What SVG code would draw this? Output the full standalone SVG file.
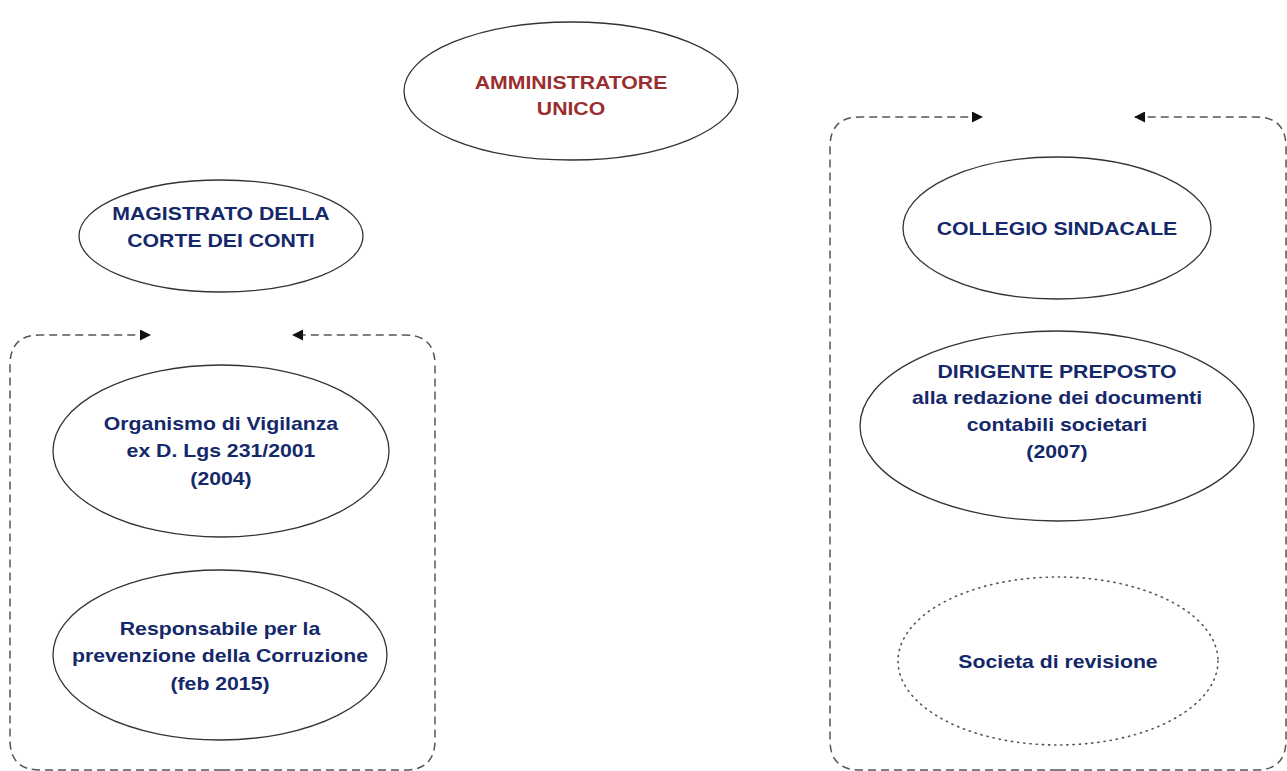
<svg xmlns="http://www.w3.org/2000/svg" width="1287" height="771" viewBox="0 0 1287 771">
  <style>
    .node { fill: #ffffff; stroke: #333333; stroke-width: 1.3; }
    .dotted { fill: #ffffff; stroke: #555555; stroke-width: 1.6; stroke-dasharray: 1.2 5; stroke-linecap: round; }
    .lbl { font-family: "Liberation Sans", Arial, sans-serif; font-weight: bold; font-size: 18px; fill: #14286a; text-anchor: middle; }
    .top { fill: #9a2e2e; }
    .conn { fill: none; stroke: #555555; stroke-width: 1.5; stroke-dasharray: 8 5; }
  </style>
  <defs>
    <marker id="arrow" markerWidth="11" markerHeight="11" refX="10" refY="5.5" orient="auto" markerUnits="userSpaceOnUse">
      <path d="M0,0 L11,5.5 L0,11 Z" fill="#111111"/>
    </marker>
  </defs>
  <rect width="1287" height="771" fill="#ffffff"/>

  <g id="connectors">
    <!-- left group frame -->
    <path class="conn" d="M222,770 L40,770 Q10,770 10,740 L10,365 Q10,335 40,335 L150,335" marker-end="url(#arrow)"/>
    <path class="conn" d="M222,770 L405,770 Q435,770 435,740 L435,365 Q435,335 405,335 L293,335" marker-end="url(#arrow)"/>
    <!-- right group frame -->
    <path class="conn" d="M1058,770 L860,770 Q830,770 830,740 L830,147 Q830,117 860,117 L982,117" marker-end="url(#arrow)"/>
    <path class="conn" d="M1058,770 L1256,770 Q1286,770 1286,740 L1286,147 Q1286,117 1256,117 L1135,117" marker-end="url(#arrow)"/>
  </g>

  <g id="amministratore">
    <ellipse class="node" cx="571" cy="91" rx="167" ry="69"/>
    <text class="lbl top" transform="translate(571 89) scale(1.18 1)">AMMINISTRATORE</text>
    <text class="lbl top" transform="translate(571 115) scale(1.18 1)">UNICO</text>
  </g>

  <g id="magistrato">
    <ellipse class="node" cx="221" cy="236" rx="142" ry="56"/>
    <text class="lbl" transform="translate(221 220) scale(1.18 1)">MAGISTRATO DELLA</text>
    <text class="lbl" transform="translate(221 247) scale(1.18 1)">CORTE DEI CONTI</text>
  </g>

  <g id="organismo">
    <ellipse class="node" cx="221" cy="451" rx="168" ry="86"/>
    <text class="lbl" transform="translate(221 430) scale(1.18 1)">Organismo di Vigilanza</text>
    <text class="lbl" transform="translate(221 457) scale(1.18 1)">ex D. Lgs 231/2001</text>
    <text class="lbl" transform="translate(221 485) scale(1.18 1)">(2004)</text>
  </g>

  <g id="responsabile">
    <ellipse class="node" cx="220" cy="655" rx="167" ry="85"/>
    <text class="lbl" transform="translate(220 635) scale(1.18 1)">Responsabile per la</text>
    <text class="lbl" transform="translate(220 662) scale(1.18 1)">prevenzione della Corruzione</text>
    <text class="lbl" transform="translate(220 690) scale(1.18 1)">(feb 2015)</text>
  </g>

  <g id="collegio">
    <ellipse class="node" cx="1057" cy="228" rx="154" ry="71"/>
    <text class="lbl" transform="translate(1057 235) scale(1.18 1)">COLLEGIO SINDACALE</text>
  </g>

  <g id="dirigente">
    <ellipse class="node" cx="1057" cy="426" rx="197" ry="95"/>
    <text class="lbl" transform="translate(1057 378) scale(1.18 1)">DIRIGENTE PREPOSTO</text>
    <text class="lbl" transform="translate(1057 404) scale(1.18 1)">alla redazione dei documenti</text>
    <text class="lbl" transform="translate(1057 431) scale(1.18 1)">contabili societari</text>
    <text class="lbl" transform="translate(1057 458) scale(1.18 1)">(2007)</text>
  </g>

  <g id="societa">
    <ellipse class="dotted" cx="1058" cy="661" rx="160" ry="84"/>
    <text class="lbl" transform="translate(1058 668) scale(1.18 1)">Societa di revisione</text>
  </g>
</svg>
